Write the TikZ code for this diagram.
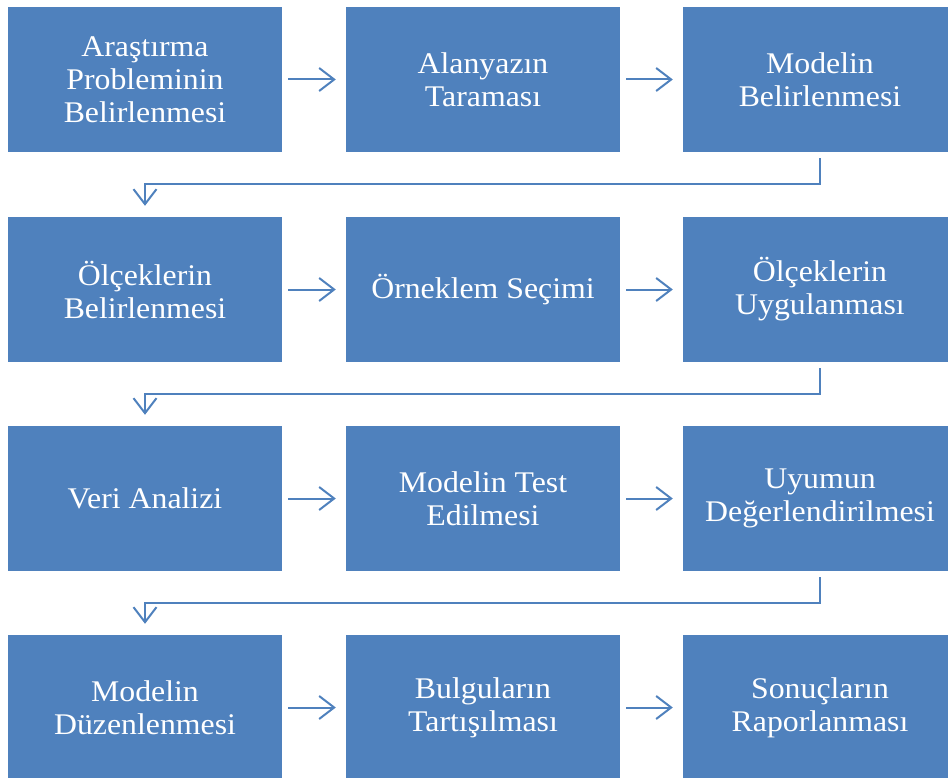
\documentclass[tikz,border=0pt]{standalone}
\usepackage{fontspec}
\setmainfont[FakeStretch=1.06]{Liberation Serif}
\usetikzlibrary{arrows.meta}
\definecolor{boxblue}{HTML}{4F81BD}
\tikzset{
  stepbox/.style={fill=boxblue, draw=none, minimum width=274pt, minimum height=145pt,
    inner sep=0pt, text=white, align=center,
    font=\fontsize{30}{33}\selectfont},
  flow/.style={draw=boxblue, line width=2pt, -{Straight Barb[length=15pt,width=23pt,line width=2pt]}},
}
\begin{document}
\begin{tikzpicture}[x=1pt,y=-1pt]
\useasboundingbox (0,0) rectangle (948,778);
\node[stepbox] (a1) at (145,79.5) {Araştırma\\Probleminin\\Belirlenmesi};
\node[stepbox] (a2) at (483,79.5) {Alanyazın\\Taraması};
\node[stepbox] (a3) at (820,79.5) {Modelin\\Belirlenmesi};
\node[stepbox] (b1) at (145,289.5) {Ölçeklerin\\Belirlenmesi};
\node[stepbox] (b2) at (483,289.5) {Örneklem Seçimi};
\node[stepbox] (b3) at (820,289.5) {Ölçeklerin\\Uygulanması};
\node[stepbox] (c1) at (145,498.5) {Veri Analizi};
\node[stepbox] (c2) at (483,498.5) {Modelin Test\\Edilmesi};
\node[stepbox] (c3) at (820,498.5) {Uyumun\\Değerlendirilmesi};
\node[stepbox] (d1) at (145,707.5) {Modelin\\Düzenlenmesi};
\node[stepbox] (d2) at (483,707.5) {Bulguların\\Tartışılması};
\node[stepbox] (d3) at (820,707.5) {Sonuçların\\Raporlanması};
\foreach \r in {a,b,c,d}{
  \draw[flow, shorten <=6pt, shorten >=10pt] (\r1.east) -- (\r2.west);
  \draw[flow, shorten <=6pt, shorten >=10pt] (\r2.east) -- (\r3.west);
}
\foreach \s/\t in {a/b,b/c,c/d}{
  \draw[flow, shorten <=6pt, shorten >=11pt] (\s3.south) -- ++(0,32) -| (\t1.north);
}
\end{tikzpicture}
\end{document}
